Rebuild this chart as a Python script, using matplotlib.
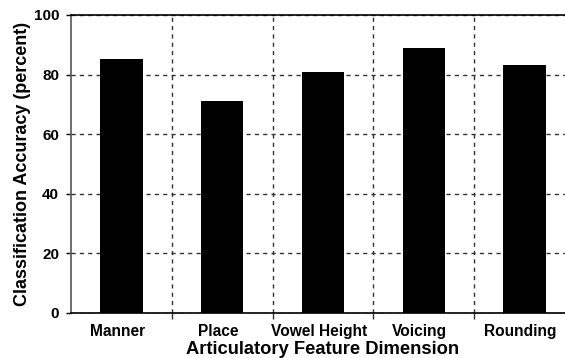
import numpy as np
import matplotlib
matplotlib.use('Agg')
import matplotlib.pyplot as plt
import matplotlib.transforms as mtransforms

categories = ['Manner', 'Place', 'Vowel Height', 'Voicing', 'Rounding']
accuracy = [85.2, 71.1, 80.9, 88.9, 83.2]
y_ticks = [0, 20, 40, 60, 80, 100]

plt.rcParams['font.family'] = ['Liberation Sans', 'DejaVu Sans']
plt.rcParams['font.weight'] = 'bold'

fig = plt.figure(figsize=(5.65, 3.58), dpi=100)
# right edge of the axes runs past the figure, as in the original crop
ax = fig.add_axes([71 / 565, 45 / 358, 504 / 565, 298 / 358])

x = np.arange(len(categories))
ax.bar(x, accuracy, width=0.42, color='black', edgecolor='none', zorder=3)

ax.set_xlim(-0.5, len(categories) - 0.5)
ax.set_ylim(0, 100)

ax.set_yticks(y_ticks)
ax.set_xticks(x)
ax.set_xticklabels(categories, fontsize=11.2, fontweight='bold')
ax.set_yticklabels([str(t) for t in y_ticks], fontsize=11, fontweight='bold')
ax.tick_params(axis='x', length=0, pad=8)
ax.tick_params(axis='y', length=3.6, width=1, pad=5)

# labels sit a little left of the bar centres
shift = mtransforms.ScaledTranslation(-4 / 100, 0, fig.dpi_scale_trans)
for lab in ax.get_xticklabels():
    lab.set_transform(lab.get_transform() + shift)

# boundaries between categories
ax.set_xticks(np.arange(len(categories) - 1) + 0.5, minor=True)
ax.tick_params(axis='x', which='minor', length=4, width=1, color='#333333')
ax.grid(True, axis='x', which='minor', color='#333333', linestyle=(0, (3, 3)), linewidth=1, zorder=1)
ax.grid(True, axis='y', which='major', color='#333333', linestyle=(0, (3, 3)), linewidth=1, zorder=1)

for s in ['top', 'bottom', 'left']:
    ax.spines[s].set_linewidth(1.2)
ax.spines['left'].set_color('#555555')

ax.set_xlabel('Articulatory Feature Dimension', fontsize=13.2, fontweight='bold', labelpad=1)
ax.set_ylabel('Classification Accuracy (percent)', fontsize=13, fontweight='bold', labelpad=2)

fig.savefig('out.png', dpi=100)
